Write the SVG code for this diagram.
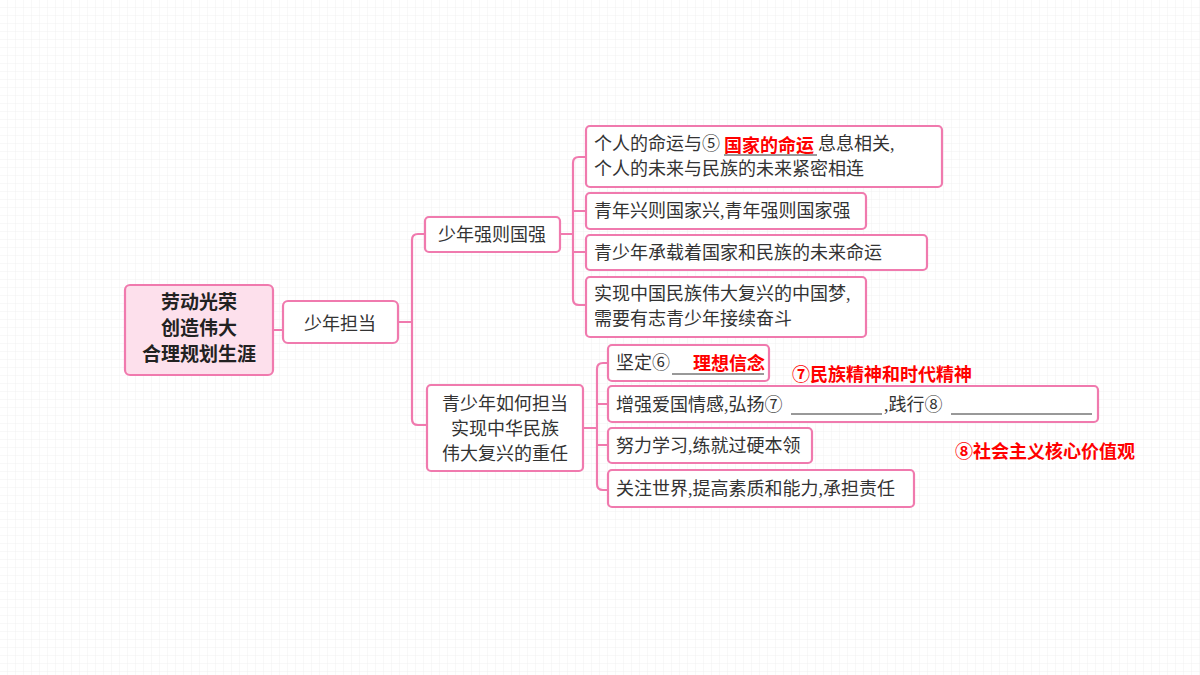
<svg xmlns="http://www.w3.org/2000/svg" width="1200" height="675" viewBox="0 0 1200 675">
<defs>
<pattern id="g" width="8" height="8" patternUnits="userSpaceOnUse"><path d="M8 0V8H0" fill="none" stroke="#f0f0f0" stroke-width="1"/></pattern>
<style>
.b{fill:#fff;stroke:#f07aae;stroke-width:2.2}
.t{font-family:"Liberation Serif","Noto Sans CJK SC",serif;font-size:18px;fill:#333}
.r{font-family:"Liberation Sans","Noto Sans CJK SC",sans-serif;font-size:18px;font-weight:bold;fill:#f00}
.c{fill:none;stroke:#f07aae;stroke-width:2.2}
.u{stroke:#333;stroke-width:1}
</style>
</defs>
<rect width="1200" height="675" fill="#fff"/>
<rect width="1200" height="675" fill="url(#g)"/>
<g id="connectors">
<path class="c" d="M273 330H283M398 322H412M425 234H418Q412 234 412 240V419Q412 425 418 425H427M412 322V322"/>
<path class="c" d="M560 234H573M586 157H579Q573 157 573 163V299Q573 305 579 305H586M573 211H586M573 252H586"/>
<path class="c" d="M583 428H597M608 363H603Q597 363 597 369V484Q597 490 603 490H608M597 404H608M597 445H608"/>
</g>
<g id="root"><rect x="125" y="285" width="148" height="90" rx="5" fill="#fde0ec" stroke="#f07aae" stroke-width="2.2"/>
<text font-family="Liberation Sans,Noto Sans CJK SC,sans-serif" font-size="19" font-weight="bold" fill="#222" text-anchor="middle"><tspan x="199" y="309">劳动光荣</tspan><tspan x="199" y="335">创造伟大</tspan><tspan x="199" y="361">合理规划生涯</tspan></text></g>
<g id="n1"><rect class="b" x="283" y="301" width="115" height="42" rx="5" fill="#fdf0f5"/><text class="t" x="340" y="330" font-size="23" text-anchor="middle">少年担当</text></g>
<g id="n2"><rect class="b" x="425" y="217" width="135" height="35" rx="4"/><text class="t" x="492" y="241" text-anchor="middle">少年强则国强</text></g>
<g id="n3"><rect class="b" x="427" y="385" width="156" height="86" rx="4"/><text class="t" text-anchor="middle"><tspan x="505" y="410">青少年如何担当</tspan><tspan x="505" y="435">实现中华民族</tspan><tspan x="505" y="460">伟大复兴的重任</tspan></text></g>
<g id="a1"><rect class="b" x="586" y="126" width="356" height="61" rx="4"/><text class="t"><tspan x="594" y="150">个人的命运与⑤</tspan><tspan x="818" y="150">息息相关,</tspan><tspan x="594" y="175">个人的未来与民族的未来紧密相连</tspan></text><text class="r" x="724" y="152">国家的命运</text><line class="u" x1="724" y1="155" x2="817" y2="155"/></g>
<g id="a2"><rect class="b" x="586" y="193" width="280" height="36" rx="4"/><text class="t" x="594" y="217">青年兴则国家兴,青年强则国家强</text></g>
<g id="a3"><rect class="b" x="586" y="235" width="341" height="35" rx="4"/><text class="t" x="594" y="259">青少年承载着国家和民族的未来命运</text></g>
<g id="a4"><rect class="b" x="586" y="277" width="280" height="60" rx="4"/><text class="t"><tspan x="594" y="300">实现中国民族伟大复兴的中国梦,</tspan><tspan x="594" y="325">需要有志青少年接续奋斗</tspan></text></g>
<g id="b1"><rect class="b" x="608" y="345" width="161" height="36" rx="4"/><text class="t" x="616" y="369">坚定⑥</text><text class="r" x="693" y="370">理想信念</text><line class="u" x1="672" y1="374" x2="764" y2="374"/></g>
<g id="b2"><rect class="b" x="608" y="386" width="490" height="36" rx="4"/><text class="t" x="616" y="411">增强爱国情感,弘扬⑦</text><line class="u" x1="791" y1="414" x2="882" y2="414"/><text class="t" x="884" y="411">,践行⑧</text><line class="u" x1="951" y1="414" x2="1092" y2="414"/></g>
<g id="b3"><rect class="b" x="608" y="428" width="204" height="35" rx="4"/><text class="t" x="616" y="452">努力学习,练就过硬本领</text></g>
<g id="b4"><rect class="b" x="608" y="470" width="306" height="37" rx="4"/><text class="t" x="616" y="495">关注世界,提高素质和能力,承担责任</text></g>
<g id="notes"><text class="r" x="792" y="381">⑦民族精神和时代精神</text><text class="r" x="955" y="458">⑧社会主义核心价值观</text></g>
</svg>
